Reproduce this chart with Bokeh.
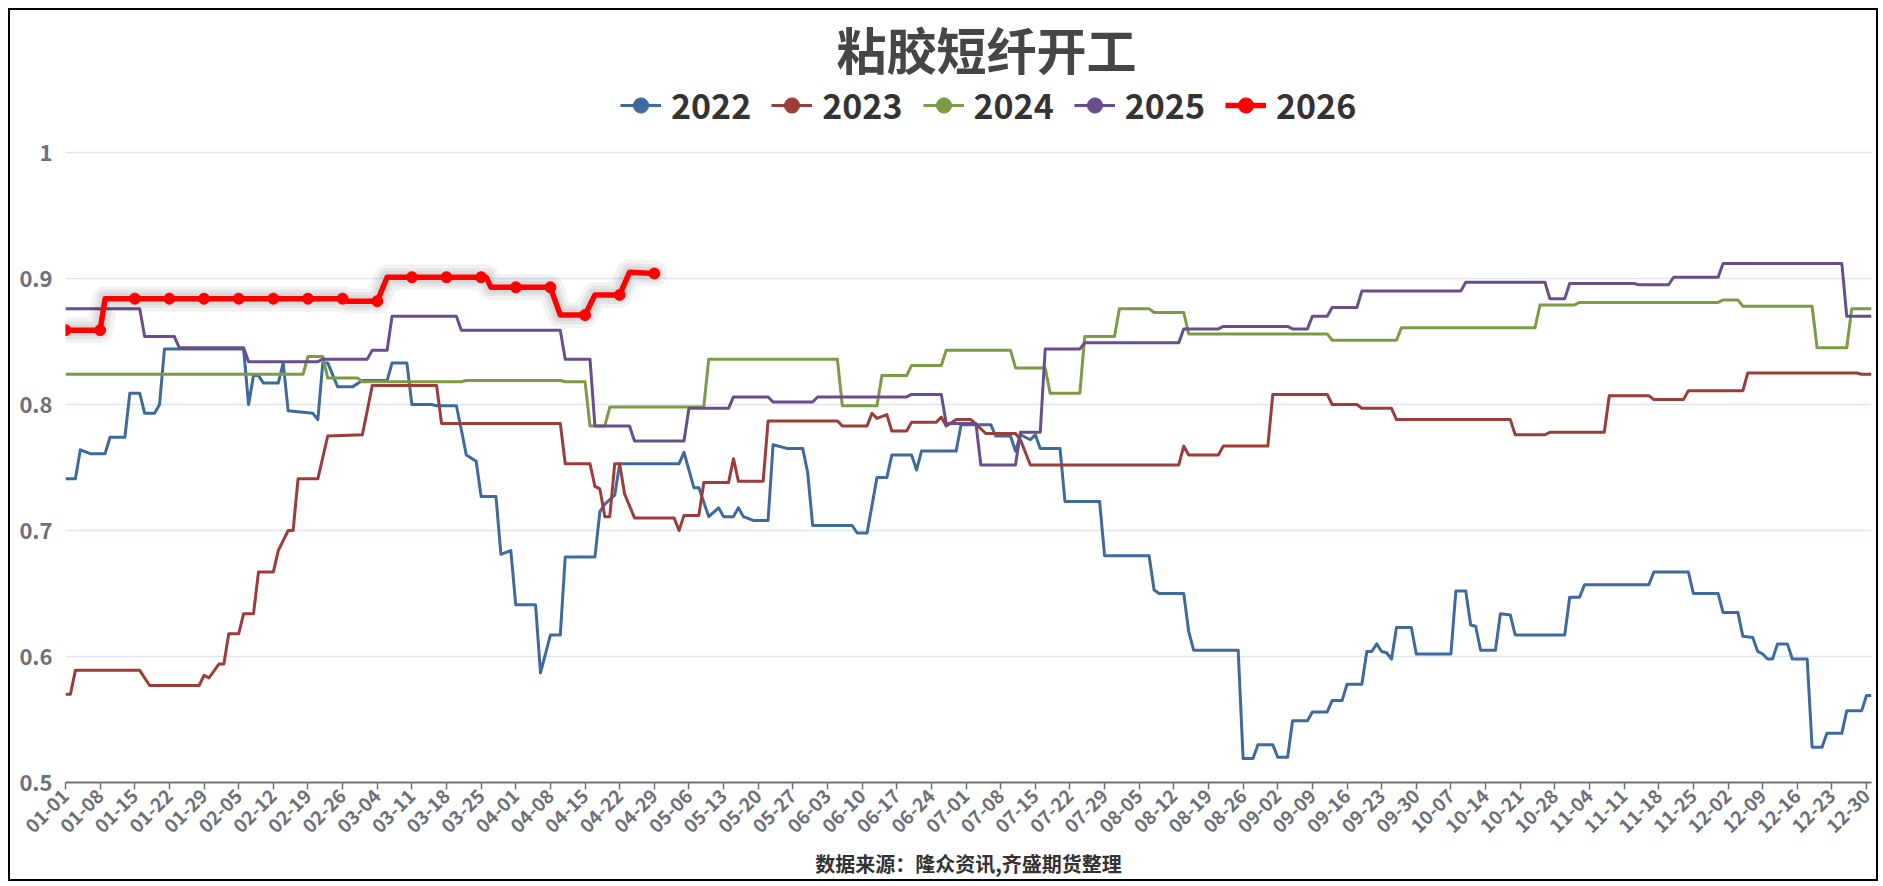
import datetime
from math import pi

import numpy as np
from bokeh.plotting import figure
from bokeh.models import Range1d, FixedTicker, Label, Legend, LegendItem, ColumnDataSource, Title
from bokeh.embed import file_html
from bokeh.resources import INLINE

# ---------------- data ----------------
title_text = "粘胶短纤开工"
source_text = "数据来源：隆众资讯,齐盛期货整理"

_start = datetime.date(2024, 1, 1)
categories = [(_start + datetime.timedelta(days=i)).strftime("%m-%d") for i in range(366)]
tick_index = list(range(0, 366, 7))
y_ticks = [0.5, 0.6, 0.7, 0.8, 0.9, 1.0]
y_tick_labels = ["0.5", "0.6", "0.7", "0.8", "0.9", "1"]

years = ["2022", "2023", "2024", "2025", "2026"]
colors = ["#3E6A9E", "#9C3D3A", "#7D9B45", "#6A4E8C", "#FF0000"]

# day index (into categories) and value, at every point where the line changes direction
d2022 = [0, 2, 3, 5, 8, 9, 12, 13, 15, 16, 18, 19, 20, 36, 37, 38, 39, 40, 43, 44, 45, 50, 51, 52, 53, 55, 58, 60,
         65, 66, 69, 70, 74, 75, 79, 80, 81, 83, 84, 87, 88, 90, 91, 95, 96, 98, 100, 101, 107, 108, 109, 111, 112,
         124, 125, 127, 128, 130, 132, 133, 135, 136, 137, 139, 142, 143, 146, 149, 150, 151, 159, 160, 162, 164,
         166, 167, 171, 172, 173, 180, 181, 187, 188, 191, 192, 193, 195, 196, 197, 201, 202, 209, 210, 219, 220,
         221, 226, 227, 228, 237, 238, 240, 241, 244, 245, 247, 248, 251, 252, 255, 256, 258, 259, 262, 263, 264,
         265, 266, 267, 268, 269, 272, 273, 280, 281, 283, 284, 285, 286, 289, 290, 292, 293, 303, 304, 306, 307,
         320, 321, 328, 329, 334, 335, 338, 339, 341, 342, 343, 344, 345, 346, 348, 349, 352, 353, 355, 356, 359,
         360, 363, 364, 365]
v2022 = [0.741, 0.741, 0.764, 0.761, 0.761, 0.774, 0.774, 0.809, 0.809, 0.793, 0.793, 0.800, 0.844, 0.844, 0.800,
         0.823, 0.823, 0.817, 0.817, 0.833, 0.795, 0.793, 0.788, 0.833, 0.833, 0.814, 0.814, 0.819,
         0.819, 0.833, 0.833, 0.800, 0.800, 0.799, 0.799, 0.780, 0.760, 0.755, 0.727, 0.727, 0.681, 0.684, 0.641,
         0.641, 0.587, 0.617, 0.617, 0.679, 0.679, 0.715, 0.721, 0.728, 0.753,
         0.753, 0.762, 0.734, 0.734, 0.711, 0.718, 0.711, 0.711, 0.718, 0.711, 0.708, 0.708, 0.768, 0.765, 0.765,
         0.746, 0.704, 0.704, 0.698, 0.698, 0.742,
         0.742, 0.760, 0.760, 0.748, 0.763, 0.763, 0.784, 0.784, 0.775, 0.775, 0.763, 0.776, 0.772, 0.776, 0.765,
         0.765, 0.723, 0.723, 0.680, 0.680, 0.653,
         0.650, 0.650, 0.620, 0.605, 0.605, 0.519, 0.519, 0.530, 0.530, 0.520, 0.520, 0.549, 0.549, 0.556, 0.556,
         0.565, 0.565, 0.578, 0.578, 0.604, 0.604,
         0.610, 0.604, 0.603, 0.598, 0.623, 0.623, 0.602, 0.602, 0.652, 0.652, 0.625, 0.624, 0.605, 0.605, 0.634,
         0.633, 0.617, 0.617, 0.647, 0.647, 0.657,
         0.657, 0.667, 0.667, 0.650, 0.650, 0.635, 0.635, 0.616, 0.615, 0.604, 0.602, 0.598, 0.598, 0.610, 0.610,
         0.598, 0.598, 0.528, 0.528, 0.539, 0.539,
         0.557, 0.557, 0.569, 0.569]

d2023 = [0, 1, 2, 15, 17, 27, 28, 29, 31, 32, 33, 35, 36, 38, 39, 42, 43, 45, 46, 47, 51, 53, 60, 62, 75, 76, 100,
         101, 106, 107, 108, 109, 110, 111, 112, 113, 115, 123, 124, 125, 128, 129, 134, 135, 136, 141, 142, 156,
         157, 162, 163, 164, 166, 167, 170, 171, 176, 177, 178, 180, 183, 186, 192, 193, 195, 225, 226, 227, 233,
         234, 243, 244, 255, 256, 261, 262, 268, 269, 292, 293, 299, 300, 311, 312, 320, 321, 327, 328, 339, 340,
         362, 363, 365]
v2023 = [0.570, 0.570, 0.589, 0.589, 0.577, 0.577, 0.585, 0.583, 0.594, 0.594, 0.618, 0.618, 0.634, 0.634, 0.667,
         0.667, 0.684, 0.700, 0.700, 0.741, 0.741, 0.775, 0.776, 0.815, 0.815, 0.785, 0.785,
         0.753, 0.753, 0.735, 0.733, 0.711, 0.711, 0.753, 0.753, 0.729, 0.710, 0.710, 0.700, 0.712, 0.712, 0.738,
         0.738, 0.757, 0.739, 0.739, 0.787, 0.787,
         0.783, 0.783, 0.793, 0.789, 0.792, 0.779, 0.779, 0.786, 0.786, 0.790, 0.783, 0.788, 0.788, 0.777, 0.777,
         0.772, 0.752, 0.752, 0.767, 0.760, 0.760,
         0.767, 0.767, 0.808, 0.808, 0.800, 0.800, 0.797, 0.797, 0.788, 0.788, 0.776, 0.776, 0.778, 0.778, 0.807,
         0.807, 0.804, 0.804, 0.811, 0.811, 0.825,
         0.825, 0.824, 0.824]

d2024 = [0, 48, 49, 52, 53, 59, 60, 80, 81, 100, 101, 105, 106, 109, 110, 129, 130, 156, 157, 164, 165, 170, 171,
         177, 178, 191, 192, 198, 199, 205, 206, 212, 213, 219, 220, 226, 227, 255, 256, 269, 270, 297, 298, 305,
         306, 334, 335, 338, 339, 353, 354, 360, 361, 365]
v2024 = [0.824, 0.824, 0.838, 0.838, 0.821, 0.821, 0.818, 0.818, 0.819, 0.819, 0.818, 0.818, 0.783, 0.783, 0.798,
         0.798, 0.836, 0.836, 0.799, 0.799, 0.823, 0.823, 0.831,
         0.831, 0.843, 0.843, 0.829, 0.829, 0.809, 0.809, 0.854, 0.854, 0.876, 0.876, 0.873, 0.873, 0.856, 0.856,
         0.851, 0.851, 0.861, 0.861, 0.879, 0.879,
         0.881, 0.881, 0.883, 0.883, 0.878, 0.878, 0.845, 0.845, 0.876, 0.876]

d2025 = [0, 15, 16, 22, 23, 36, 37, 51, 52, 61, 62, 65, 66, 79, 80, 100, 101, 106, 107, 114, 115, 125, 126, 134,
         135, 142, 143, 151, 152, 170, 171, 177, 178, 184, 185, 192, 193, 197, 198, 205, 206, 225, 226, 233, 234,
         247, 248, 251, 252, 255, 256, 261, 262, 282, 283, 299, 300, 303, 304, 317, 318, 324, 325, 334, 335, 359,
         360, 365]
v2025 = [0.876, 0.876, 0.854, 0.854, 0.845, 0.845, 0.834, 0.834, 0.836, 0.836, 0.843, 0.843, 0.870, 0.870, 0.859,
         0.859, 0.836, 0.836, 0.783, 0.783, 0.771, 0.771, 0.797, 0.797,
         0.806, 0.806, 0.802, 0.802, 0.806, 0.806, 0.808, 0.808, 0.785, 0.785, 0.752, 0.752, 0.778, 0.778, 0.844,
         0.844, 0.849, 0.849, 0.860, 0.860, 0.862,
         0.862, 0.860, 0.860, 0.870, 0.870, 0.877, 0.877, 0.890, 0.890, 0.897, 0.897, 0.884, 0.884, 0.896, 0.896,
         0.895, 0.895, 0.901, 0.901, 0.912, 0.912,
         0.870, 0.870]

d2026 = [0, 7, 8, 14, 21, 28, 35, 42, 49, 56, 57, 63, 65, 70, 77, 84, 85, 86, 91, 98, 100, 105, 107, 112, 114, 119]
v2026 = [0.859, 0.859, 0.884, 0.884, 0.884, 0.884, 0.884, 0.884, 0.884, 0.884, 0.882, 0.882, 0.901, 0.901, 0.901,
         0.901, 0.901, 0.893, 0.893, 0.893, 0.871, 0.871, 0.887, 0.887, 0.905, 0.904]

series_days = [d2022, d2023, d2024, d2025, d2026]
series_vals = [v2022, v2023, v2024, v2025, v2026]

FONT = "Noto Sans CJK SC"

# ---------------- figure ----------------
# frame spans from the canvas top; the y range above 1 holds the title and legend (no ticks there)
p = figure(width=1870, height=873, output_backend="svg", toolbar_location=None,
           x_range=Range1d(0, 365), y_range=Range1d(0.5, 1.0 + 142.0 / 1260.0),
           min_border_left=55, min_border_right=9, min_border_top=0, min_border_bottom=101)
p.styles = {"border": "2px solid #000000", "margin": "8px 0px 0px 8px"}
p.title.text = ""
p.title.visible = False
p.outline_line_color = None
p.background_fill_color = "white"
p.border_fill_color = "white"

p.xgrid.visible = False
p.ygrid.grid_line_color = "#E0E6F1"
p.ygrid.grid_line_width = 1.5

p.yaxis.ticker = FixedTicker(ticks=y_ticks)
p.yaxis.major_label_overrides = {t: s for t, s in zip(y_ticks, y_tick_labels)}
p.yaxis.axis_line_color = None
p.yaxis.major_tick_line_color = None
p.yaxis.minor_tick_line_color = None
p.yaxis.major_label_standoff = 7
p.yaxis.major_label_text_font = FONT
p.yaxis.major_label_text_font_size = "22px"
p.yaxis.major_label_text_font_style = "bold"
p.yaxis.major_label_text_color = "#6E7079"

p.xaxis.ticker = FixedTicker(ticks=tick_index)
p.xaxis.major_label_overrides = {i: categories[i] for i in tick_index}
p.xaxis.major_label_orientation = pi / 4
p.xaxis.axis_line_color = "#6E7079"
p.xaxis.axis_line_width = 2
p.xaxis.major_tick_line_color = "#6E7079"
p.xaxis.major_tick_line_width = 1.5
p.xaxis.major_tick_in = 0
p.xaxis.major_tick_out = 7
p.xaxis.minor_tick_line_color = None
p.xaxis.major_label_standoff = 3
p.xaxis.major_label_text_font = FONT
p.xaxis.major_label_text_font_size = "19px"
p.xaxis.major_label_text_font_style = "bold"
p.xaxis.major_label_text_color = "#6E7079"

items = []
for yr, c, dd, vv in zip(years, colors, series_days, series_vals):
    src = ColumnDataSource(dict(x=dd, y=vv))
    if yr == "2026":
        for w in (26, 18, 12):
            p.line("x", "y", source=src, line_color="black", line_alpha=0.05, line_width=w,
                   line_join="round", line_cap="round")
        ln = p.line("x", "y", source=src, line_color=c, line_width=5.5, line_join="round")
        mk_src = ColumnDataSource(dict(x=[d for d in dd if d % 7 == 0],
                                       y=[v for d, v in zip(dd, vv) if d % 7 == 0]))
        mk = p.scatter("x", "y", source=mk_src, marker="circle", size=11, fill_color=c, line_color=c)
    else:
        ln = p.line("x", "y", source=src, line_color=c, line_width=3, line_join="round")
        # symbols are hidden on the chart for these years; this renderer only supplies the legend icon
        mk = p.scatter(x=np.array([np.nan]), y=np.array([np.nan]), marker="circle", size=15,
                       fill_color=c, line_color=c)
    items.append(LegendItem(label=yr, renderers=[ln, mk]))

legend = Legend(items=items, orientation="horizontal", location=(555, 653),
                glyph_width=41, glyph_height=38, label_standoff=10, spacing=20,
                padding=0, margin=0, border_line_color=None, background_fill_alpha=0,
                label_text_font=FONT, label_text_font_size="34px", label_text_font_style="bold",
                label_text_color="#333333")
p.add_layout(legend, "center")

p.add_layout(Label(x=921, y=735, x_units="screen", y_units="screen", text=title_text,
                   text_align="center", text_baseline="middle", text_font=FONT,
                   text_font_size="50px", text_font_style="bold", text_color="#464646"))

p.add_layout(Title(text=source_text, align="center", text_font=FONT, text_font_size="20px",
                   text_font_style="bold", text_color="#333333", standoff=8), "below")

open("out.html", "w").write(file_html(p, INLINE))
